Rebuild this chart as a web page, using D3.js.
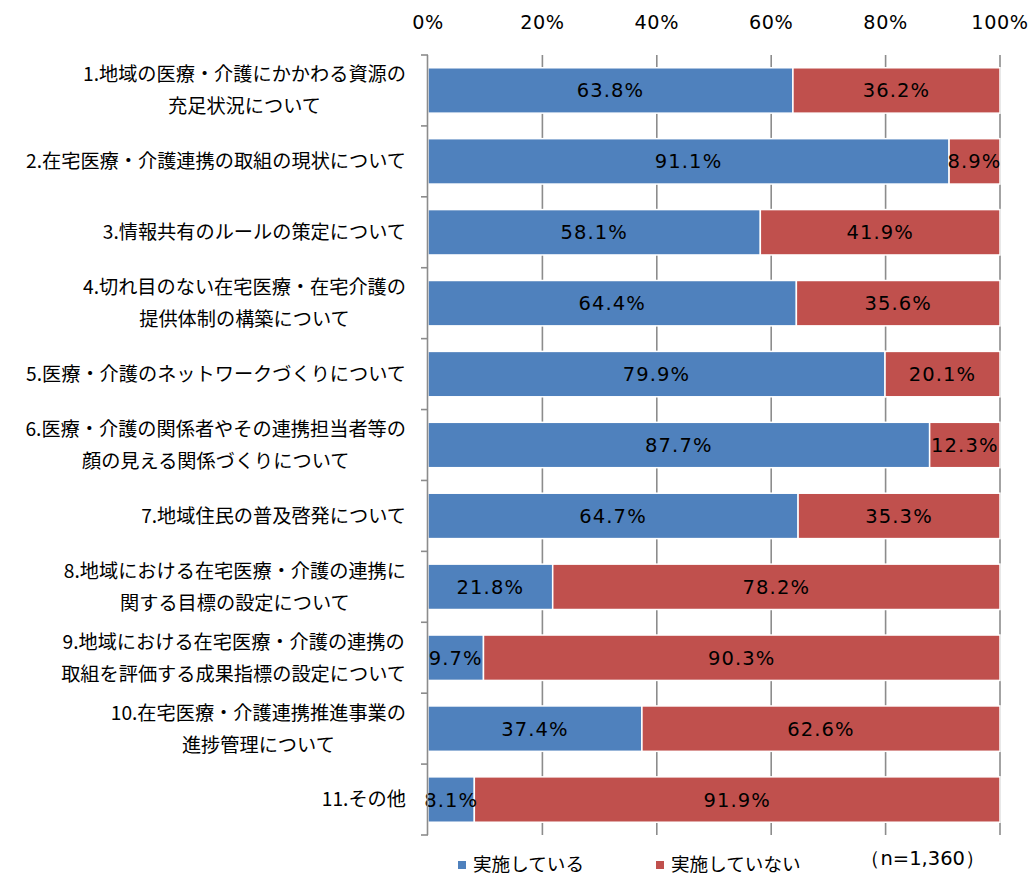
<!DOCTYPE html>
<html>
<head>
<meta charset="utf-8">
<script src="https://cdn.jsdelivr.net/npm/d3@7"></script>
<style>
  html, body { margin: 0; padding: 0; background: #fff; }
  svg { display: block; }
  .jp { font-family: "Noto Sans CJK JP", "Noto Sans", sans-serif; }
  .num { font-family: "DejaVu Sans", Verdana, sans-serif; }
</style>
</head>
<body>
<svg id="chart" width="1034" height="877"></svg>
<script>
// Survey items (each label split into its display lines)
const categories = [
  ["1.地域の医療・介護にかかわる資源の", "充足状況について"],
  ["2.在宅医療・介護連携の取組の現状について"],
  ["3.情報共有のルールの策定について"],
  ["4.切れ目のない在宅医療・在宅介護の", "提供体制の構築について"],
  ["5.医療・介護のネットワークづくりについて"],
  ["6.医療・介護の関係者やその連携担当者等の", "顔の見える関係づくりについて"],
  ["7.地域住民の普及啓発について"],
  ["8.地域における在宅医療・介護の連携に", "関する目標の設定について"],
  ["9.地域における在宅医療・介護の連携の", "取組を評価する成果指標の設定について"],
  ["10.在宅医療・介護連携推進事業の", "進捗管理について"],
  ["11.その他"]
];
const seriesNames = ["実施している", "実施していない"];
const implemented    = [63.8, 91.1, 58.1, 64.4, 79.9, 87.7, 64.7, 21.8, 9.7, 37.4, 8.1];
const notImplemented = [36.2, 8.9, 41.9, 35.6, 20.1, 12.3, 35.3, 78.2, 90.3, 62.6, 91.9];
const xTicks = [0, 20, 40, 60, 80, 100];
const sampleNote = "（n=1,360）";

const colors = ["#4F81BD", "#C0504D"];
const svg = d3.select("#chart");

const plot = { left: 428, right: 1000, top: 55, bottom: 835 };

const x = d3.scaleLinear().domain([0, 100]).range([plot.left, plot.right]);
const y = d3.scaleBand()
  .domain(d3.range(categories.length))
  .range([plot.top, plot.bottom])
  .paddingInner(0.36)
  .paddingOuter(0.18);

const rows = categories.map((c, i) => ({
  i, lines: c,
  segs: [
    { s: 0, x0: 0, v: implemented[i] },
    { s: 1, x0: implemented[i], v: notImplemented[i] }
  ]
}));

// vertical gridlines
svg.append("g")
  .selectAll("line")
  .data(xTicks.slice(1))
  .join("line")
  .attr("x1", d => x(d)).attr("x2", d => x(d))
  .attr("y1", plot.top).attr("y2", plot.bottom)
  .attr("stroke", "#8c8c8c").attr("stroke-width", 1.6);

// top axis labels
svg.append("g")
  .selectAll("text")
  .data(xTicks)
  .join("text")
  .attr("class", "num")
  .attr("x", d => x(d))
  .attr("y", 22)
  .attr("dy", "0.36em")
  .attr("text-anchor", "middle")
  .attr("font-size", 19.2)
  .attr("letter-spacing", 0.6)
  .attr("fill", "#000")
  .text(d => d + "%");

// stacked bars
const rowG = svg.append("g").selectAll("g").data(rows).join("g");
rowG.selectAll("rect")
  .data(d => d.segs.map(s => ({ ...s, i: d.i })))
  .join("rect")
  .attr("x", d => x(d.x0))
  .attr("y", d => y(d.i))
  .attr("width", d => x(d.x0 + d.v) - x(d.x0))
  .attr("height", y.bandwidth())
  .attr("fill", d => colors[d.s])
  .attr("stroke", "#fff")
  .attr("stroke-width", 1.5);

// value labels
rowG.selectAll("text.val")
  .data(d => d.segs.map(s => ({ ...s, i: d.i })))
  .join("text")
  .attr("class", "val num")
  .attr("x", d => x(d.x0 + d.v / 2))
  .attr("y", d => y(d.i) + y.bandwidth() / 2)
  .attr("dy", "0.36em")
  .attr("text-anchor", "middle")
  .attr("font-size", 19.5)
  .attr("letter-spacing", 1.1)
  .attr("fill", "#000")
  .text(d => d.v.toFixed(1) + "%");

// left axis line with ticks at band boundaries
const axisG = svg.append("g");
axisG.append("line")
  .attr("x1", plot.left - 0.5).attr("x2", plot.left - 0.5)
  .attr("y1", plot.top).attr("y2", plot.bottom)
  .attr("stroke", "#8c8c8c").attr("stroke-width", 1.6);
axisG.selectAll("line.tk")
  .data(d3.range(categories.length + 1))
  .join("line")
  .attr("class", "tk")
  .attr("x1", plot.left - 7).attr("x2", plot.left)
  .attr("y1", d => plot.top + d * (plot.bottom - plot.top) / categories.length)
  .attr("y2", d => plot.top + d * (plot.bottom - plot.top) / categories.length)
  .attr("stroke", "#8c8c8c").attr("stroke-width", 1.6);

// category labels: lines centred within a right-aligned block
const labelRight = 406;
const lineGap = 32;
rowG.each(function (d) {
  const g = d3.select(this).append("g");
  const cy = y(d.i) + y.bandwidth() / 2;
  const n = d.lines.length;
  const texts = d.lines.map((t, k) =>
    g.append("text")
      .attr("class", "jp")
      .attr("font-size", 19.2)
      .attr("fill", "#000")
      .attr("y", cy + (k - (n - 1) / 2) * lineGap)
      .attr("dy", "0.36em")
      .attr("text-anchor", "middle")
      .text(t));
  const maxW = d3.max(texts, t => t.node().getComputedTextLength());
  texts.forEach(t => t.attr("x", labelRight - maxW / 2));
});

// legend
const legendItems = [
  { name: seriesNames[0], color: colors[0], x: 458 },
  { name: seriesNames[1], color: colors[1], x: 656 }
];
const leg = svg.append("g").selectAll("g").data(legendItems).join("g");
leg.append("rect")
  .attr("x", d => d.x).attr("y", 861)
  .attr("width", 8).attr("height", 8)
  .attr("fill", d => d.color);
leg.append("text")
  .attr("class", "jp")
  .attr("x", d => d.x + 15).attr("y", 865)
  .attr("dy", "0.34em")
  .attr("font-size", 18.6)
  .attr("fill", "#000")
  .text(d => d.name);

svg.append("text")
  .attr("class", "num")
  .attr("x", 985).attr("y", 858)
  .attr("dy", "0.36em")
  .attr("text-anchor", "end")
  .attr("font-size", 19.5)
  .attr("fill", "#000")
  .text(sampleNote);
</script>
</body>
</html>
